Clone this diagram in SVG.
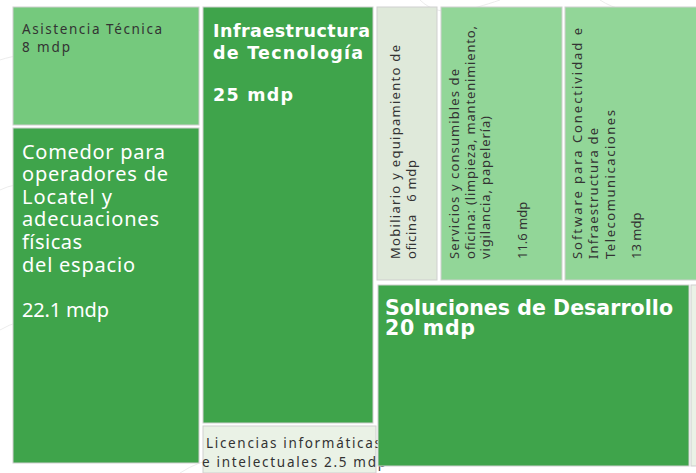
<svg xmlns="http://www.w3.org/2000/svg" width="696" height="473" viewBox="0 0 696 473">
<style>
.box{stroke:#cfcfcf;stroke-width:1}
.dk{fill:#3fa44b}
.md{fill:#75c97d}
.lt{fill:#92d698}
.pale{fill:#dfe9da}
.pale2{fill:#eaf2e6}
text{font-family:"Noto Sans","DejaVu Sans",sans-serif}
.t{fill:#333;font-size:13.5px}
.r{fill:#333;font-size:13px}
.w{fill:#fff;font-size:20px}
.wb{fill:#fff;font-size:17.5px;font-weight:bold;font-family:"DejaVu Sans","Noto Sans",sans-serif}
.wb2{fill:#fff;font-size:20.5px;font-weight:bold;font-family:"DejaVu Sans","Noto Sans",sans-serif}
.bg{fill:none;stroke:#ececec;stroke-width:1}
</style>
<rect width="696" height="473" fill="#fff"/>
<g id="background">
<path class="bg" d="M0 60 C60 40 120 80 200 30"/>
<path class="bg" d="M0 190 C40 170 80 210 140 180"/>
<path class="bg" d="M0 330 C50 300 90 350 150 320"/>
<path class="bg" d="M180 473 C230 440 280 470 340 450"/>
<path class="bg" d="M420 0 C440 20 470 10 500 0"/>
<path class="bg" d="M600 0 C630 20 660 5 696 15"/>
</g>
<g id="asistencia">
<rect class="box md" x="13" y="7" width="186" height="118"/>
<text class="t" x="22" y="34" textLength="140" lengthAdjust="spacing">Asistencia Técnica</text>
<text class="t" x="22" y="52" textLength="48" lengthAdjust="spacing">8 mdp</text>
</g>
<g id="comedor">
<rect class="box dk" x="13" y="128" width="186" height="335"/>
<text class="w" x="22" y="159" textLength="143" lengthAdjust="spacing">Comedor para</text>
<text class="w" x="22" y="181" textLength="146" lengthAdjust="spacing">operadores de</text>
<text class="w" x="22" y="204" textLength="90" lengthAdjust="spacing">Locatel y</text>
<text class="w" x="22" y="226" textLength="137" lengthAdjust="spacing">adecuaciones</text>
<text class="w" x="22" y="249" textLength="60" lengthAdjust="spacing">físicas</text>
<text class="w" x="22" y="272" textLength="113" lengthAdjust="spacing">del espacio</text>
<text class="w" x="22" y="317" textLength="87" lengthAdjust="spacing">22.1 mdp</text>
</g>
<g id="infraestructura">
<rect class="box dk" x="203" y="7" width="170" height="416"/>
<text class="wb" x="213" y="37" textLength="157" lengthAdjust="spacing">Infraestructura</text>
<text class="wb" x="213" y="59" textLength="150" lengthAdjust="spacing">de Tecnología</text>
<text class="wb" x="213" y="101" textLength="80" lengthAdjust="spacing">25 mdp</text>
</g>
<g id="licencias">
<rect class="box pale2" x="203" y="426" width="173" height="47"/>
<text class="t" x="206" y="448" textLength="175" lengthAdjust="spacing">Licencias informáticas</text>
<text class="t" x="202" y="467" textLength="184" lengthAdjust="spacing">e intelectuales 2.5 mdp</text>
</g>
<g id="mobiliario">
<rect class="box pale" x="377" y="7" width="60" height="273"/>
<text class="r" transform="translate(400,259) rotate(-90)" textLength="214" lengthAdjust="spacing">Mobiliario y equipamiento de</text>
<text class="r" transform="translate(416,259) rotate(-90)" textLength="99" lengthAdjust="spacing" xml:space="preserve">oficina   6 mdp</text>
</g>
<g id="servicios">
<rect class="box lt" x="441" y="7" width="121" height="273"/>
<text class="r" transform="translate(459,259) rotate(-90)" textLength="190" lengthAdjust="spacing">Servicios y consumibles de</text>
<text class="r" transform="translate(475,259) rotate(-90)" textLength="233" lengthAdjust="spacing">oficina: (limpieza, mantenimiento,</text>
<text class="r" transform="translate(490,259) rotate(-90)" textLength="143" lengthAdjust="spacing">vigilancia, papelería)</text>
<text class="r" transform="translate(527,259) rotate(-90)">11.6 mdp</text>
</g>
<g id="software">
<rect class="box lt" x="565" y="7" width="135" height="273"/>
<text class="r" transform="translate(582,259) rotate(-90)" textLength="231" lengthAdjust="spacing">Software para Conectividad e</text>
<text class="r" transform="translate(598,259) rotate(-90)" textLength="131" lengthAdjust="spacing">Infraestructura de</text>
<text class="r" transform="translate(615,259) rotate(-90)" textLength="149" lengthAdjust="spacing">Telecomunicaciones</text>
<text class="r" transform="translate(641,259) rotate(-90)">13 mdp</text>
</g>
<g id="soluciones">
<rect class="box dk" x="378" y="285" width="311" height="181"/>
<text class="wb2" x="385" y="315" textLength="288" lengthAdjust="spacing">Soluciones de Desarrollo</text>
<text class="wb2" x="385" y="335" textLength="90" lengthAdjust="spacing">20 mdp</text>
</g>
<g id="otros">
<rect class="box pale2" x="691" y="285" width="10" height="181"/>
</g>
<g id="connectors"></g>
</svg>
